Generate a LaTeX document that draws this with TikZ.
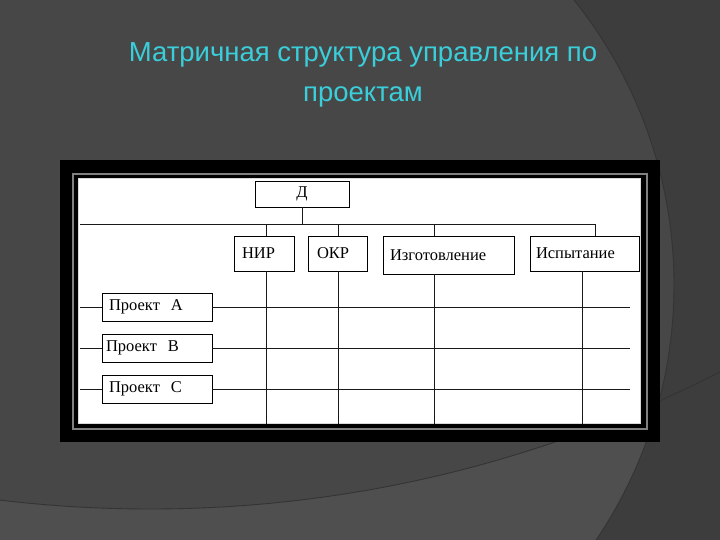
\documentclass[tikz,border=0pt]{standalone}
\usepackage{fontspec}
\setmainfont{Liberation Serif}
\newfontfamily\titlefont{Liberation Sans}
\definecolor{bgmain}{RGB}{71,71,71}
\definecolor{bglight}{RGB}{79,79,79}
\definecolor{bgdark}{RGB}{61,61,61}
\definecolor{arcline}{RGB}{52,52,52}
\definecolor{titlecyan}{RGB}{58,206,218}
\definecolor{framegray}{RGB}{128,128,128}
\begin{document}
\begin{tikzpicture}[x=1pt,y=-1pt,
  box/.style={draw=black, line width=0.9pt, fill=white, inner ysep=0pt, outer sep=0pt,
    anchor=north west, align=left, font=\fontsize{16.5}{18}\selectfont, text=black},
  link/.style={draw=black!90, line width=0.95pt},
  arcstroke/.style={draw=arcline, line width=0.9pt}]
\useasboundingbox (0,0) rectangle (720,540);
% background
\fill[bgmain] (0,0) rectangle (720,540);
\begin{scope}
  \clip (0,0) rectangle (720,540);
  \fill[bglight, even odd rule] (-10,-10) rectangle (730,550) (150,-742) circle (1251);
  \fill[bgdark, even odd rule] (-10,-10) rectangle (730,550) (218,285) circle (456);
  \draw[arcstroke] (150,-742) circle (1251);
  \draw[arcstroke] (218,285) circle (456);
\end{scope}
% title
\node[font=\titlefont\fontsize{27.5}{40}\selectfont, text=titlecyan, align=center]
  (title) at (363,75) {Матричная структура управления по\\проектам};
% frame
\fill[black] (60,160) rectangle (660,442);
\draw[framegray, line width=2pt] (73,174) rectangle (647,429);
\fill[white] (78,178) rectangle (641,424);
\draw[black!15, line width=0.6pt] (78.5,178.5) rectangle (640.5,423.5);
% boxes
\node[box, minimum width=94, minimum height=26, align=center, inner xsep=0pt] (D) at (255,181) {Д};
\node[box, minimum height=35, inner xsep=8pt, text width=44] (nir) at (234,236) {НИР};
\node[box, minimum height=35, inner xsep=9pt, text width=41] (okr) at (308,236) {ОКР};
\node[box, minimum height=38, inner xsep=7pt, text width=117] (izg) at (383,236) {Изготовление};
\node[box, minimum height=35, inner xsep=6pt, text width=97] (isp) at (530,236) {Испытание};
\node[box, minimum height=28, inner xsep=7pt, text width=96] (pa) at (102,293) {Проект\ \ А};
\node[box, minimum height=28, inner xsep=4pt, text width=102] (pb) at (102,334) {Проект\ \ В};
\node[box, minimum height=28, inner xsep=7pt, text width=96] (pc) at (102,375) {Проект\ \ С};
% coordinates
\coordinate (hl) at (80,224);
\coordinate (hr) at (595,224);
\coordinate (c1) at (266,424);
\coordinate (c2) at (338,424);
\coordinate (c3) at (434,424);
\coordinate (c4) at (582,424);
\coordinate (al) at (80,307);  \coordinate (ar) at (630,307);
\coordinate (bl) at (80,348);  \coordinate (br) at (630,348);
\coordinate (cl) at (80,389);  \coordinate (cr) at (630,389);
% connectors
\draw[link] (D.south) -- (D.south |- hl);
\draw[link] (hl) -- (hr) -- (hr |- isp.north);
\draw[link] (c1 |- hl) -- (c1 |- nir.north);
\draw[link] (c2 |- hl) -- (c2 |- okr.north);
\draw[link] (c3 |- hl) -- (c3 |- izg.north);
\draw[link] (c1 |- nir.south) -- (c1);
\draw[link] (c2 |- okr.south) -- (c2);
\draw[link] (c3 |- izg.south) -- (c3);
\draw[link] (c4 |- isp.south) -- (c4);
\draw[link] (al) -- (pa.west);
\draw[link] (pa.east) -- (ar);
\draw[link] (bl) -- (pb.west);
\draw[link] (pb.east) -- (br);
\draw[link] (cl) -- (pc.west);
\draw[link] (pc.east) -- (cr);
\end{tikzpicture}
\end{document}
